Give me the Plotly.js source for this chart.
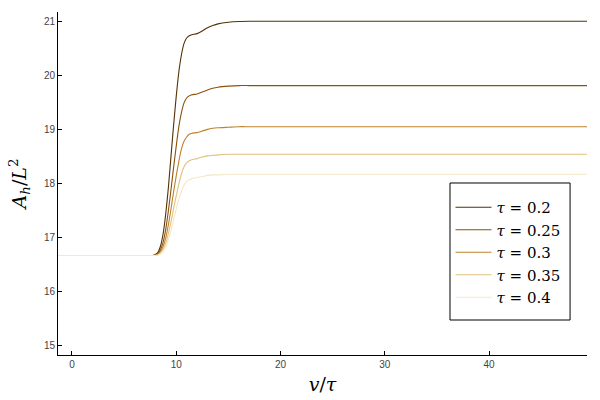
<!DOCTYPE html>
<html>
<head>
<meta charset="utf-8">
<script src="https://cdn.plot.ly/plotly-3.0.1.min.js"></script>
<style>html,body{margin:0;padding:0;background:#fff;}#chart{width:600px;height:400px;}</style>
</head>
<body>
<div id="chart"></div>
<script>
// shared time axis v/τ
const v = [-1.34, 0, 5, 7.5, 7.75, 8, 8.25, 8.5, 8.75, 9, 9.25, 9.5, 9.75, 10, 10.25, 10.5, 10.75, 11, 11.25, 11.5, 12, 12.5, 13, 13.5, 14, 15, 16, 17, 20, 30, 40, 49.4];

const tauLabels = ["0.2", "0.25", "0.3", "0.35", "0.4"];

const ah_02  = [16.67, 16.67, 16.67, 16.67, 16.67,
  16.69, 16.73, 16.85, 17.08, 17.45, 17.93, 18.51, 19.08, 19.61, 20.06, 20.38, 20.59, 20.69, 20.73,
  20.75, 20.77, 20.82, 20.88, 20.92, 20.95, 20.98, 20.995, 21.0, 21.0, 21.0, 21.0, 21.0];
const ah_025 = [16.67, 16.67, 16.67, 16.67, 16.67,
  16.68, 16.71, 16.78, 16.92, 17.16, 17.50, 17.89, 18.30, 18.69, 19.05, 19.31, 19.49, 19.58, 19.62,
  19.64, 19.655, 19.69, 19.73, 19.76, 19.78, 19.80, 19.81, 19.81, 19.81, 19.81, 19.81, 19.81];
const ah_03  = [16.67, 16.67, 16.67, 16.67, 16.67,
  16.67, 16.69, 16.74, 16.84, 17.00, 17.24, 17.53, 17.85, 18.14, 18.41, 18.64, 18.78, 18.86, 18.91,
  18.93, 18.94, 18.97, 19.00, 19.02, 19.03, 19.04, 19.05, 19.05, 19.05, 19.05, 19.05, 19.05];
const ah_035 = [16.67, 16.67, 16.67, 16.67, 16.67,
  16.67, 16.68, 16.72, 16.79, 16.90, 17.08, 17.29, 17.54, 17.77, 17.99, 18.18, 18.31, 18.38, 18.42,
  18.44, 18.46, 18.49, 18.51, 18.52, 18.53, 18.54, 18.54, 18.54, 18.54, 18.54, 18.54, 18.54];
const ah_04  = [16.67, 16.67, 16.67, 16.67, 16.67,
  16.67, 16.68, 16.70, 16.75, 16.83, 16.97, 17.13, 17.33, 17.53, 17.71, 17.86, 17.97, 18.04, 18.07,
  18.09, 18.11, 18.13, 18.15, 18.16, 18.16, 18.17, 18.17, 18.17, 18.17, 18.17, 18.17, 18.17];

const series = [ah_02, ah_025, ah_03, ah_035, ah_04];
const colors = ["#543005", "#8c510a", "#bf812d", "#dfc27d", "#f6e8c3"];

const xTicks = [0, 10, 20, 30, 40];
const yTicks = [15, 16, 17, 18, 19, 20, 21];

const traces = series.map((ys, i) => ({
  x: v,
  y: ys,
  type: "scatter",
  mode: "lines",
  name: "<i>τ</i> = " + tauLabels[i],
  line: {color: colors[i], width: 1.1, shape: "spline", smoothing: 0.5}
}));

const tickFont = {family: "Liberation Sans", size: 10, color: "#444"};
const titleFont = {family: "DejaVu Serif", size: 19, color: "#000"};

const layout = {
  width: 600, height: 400,
  margin: {l: 58, r: 13, t: 12, b: 45},
  paper_bgcolor: "#fff", plot_bgcolor: "#fff",
  showlegend: true,
  legend: {
    x: 0.742, y: 0.478, xanchor: "left", yanchor: "top",
    borderwidth: 0, bgcolor: "rgba(0,0,0,0)",
    font: {family: "DejaVu Serif", size: 15, color: "#000"},
    itemwidth: 36, tracegroupgap: 0
  },
  shapes: [{
    type: "rect", xref: "paper", yref: "paper",
    x0: 0.741, x1: 0.968, y0: 0.102, y1: 0.5015,
    line: {color: "#000", width: 1}, fillcolor: "rgba(0,0,0,0)", layer: "above"
  }],
  xaxis: {
    range: [-1.34, 49.4], tickvals: xTicks, ticktext: xTicks.map(String),
    showgrid: false, zeroline: false, showline: true, linecolor: "#000", linewidth: 1,
    ticks: "inside", ticklen: 4, tickcolor: "#000", tickfont: tickFont,
    title: {text: "<i>v</i>/<i>τ</i>", font: titleFont, standoff: 8}
  },
  yaxis: {
    range: [14.83, 21.17], tickvals: yTicks, ticktext: yTicks.map(String),
    showgrid: false, zeroline: false, showline: true, linecolor: "#000", linewidth: 1,
    ticks: "inside", ticklen: 4, tickcolor: "#000", tickfont: tickFont,
    title: {text: "<i>A</i><sub><i>h</i></sub>/<i>L</i><sup>2</sup>", font: titleFont, standoff: 12}
  }
};

Plotly.newPlot("chart", traces, layout, {displayModeBar: false, staticPlot: true});
</script>
</body>
</html>
